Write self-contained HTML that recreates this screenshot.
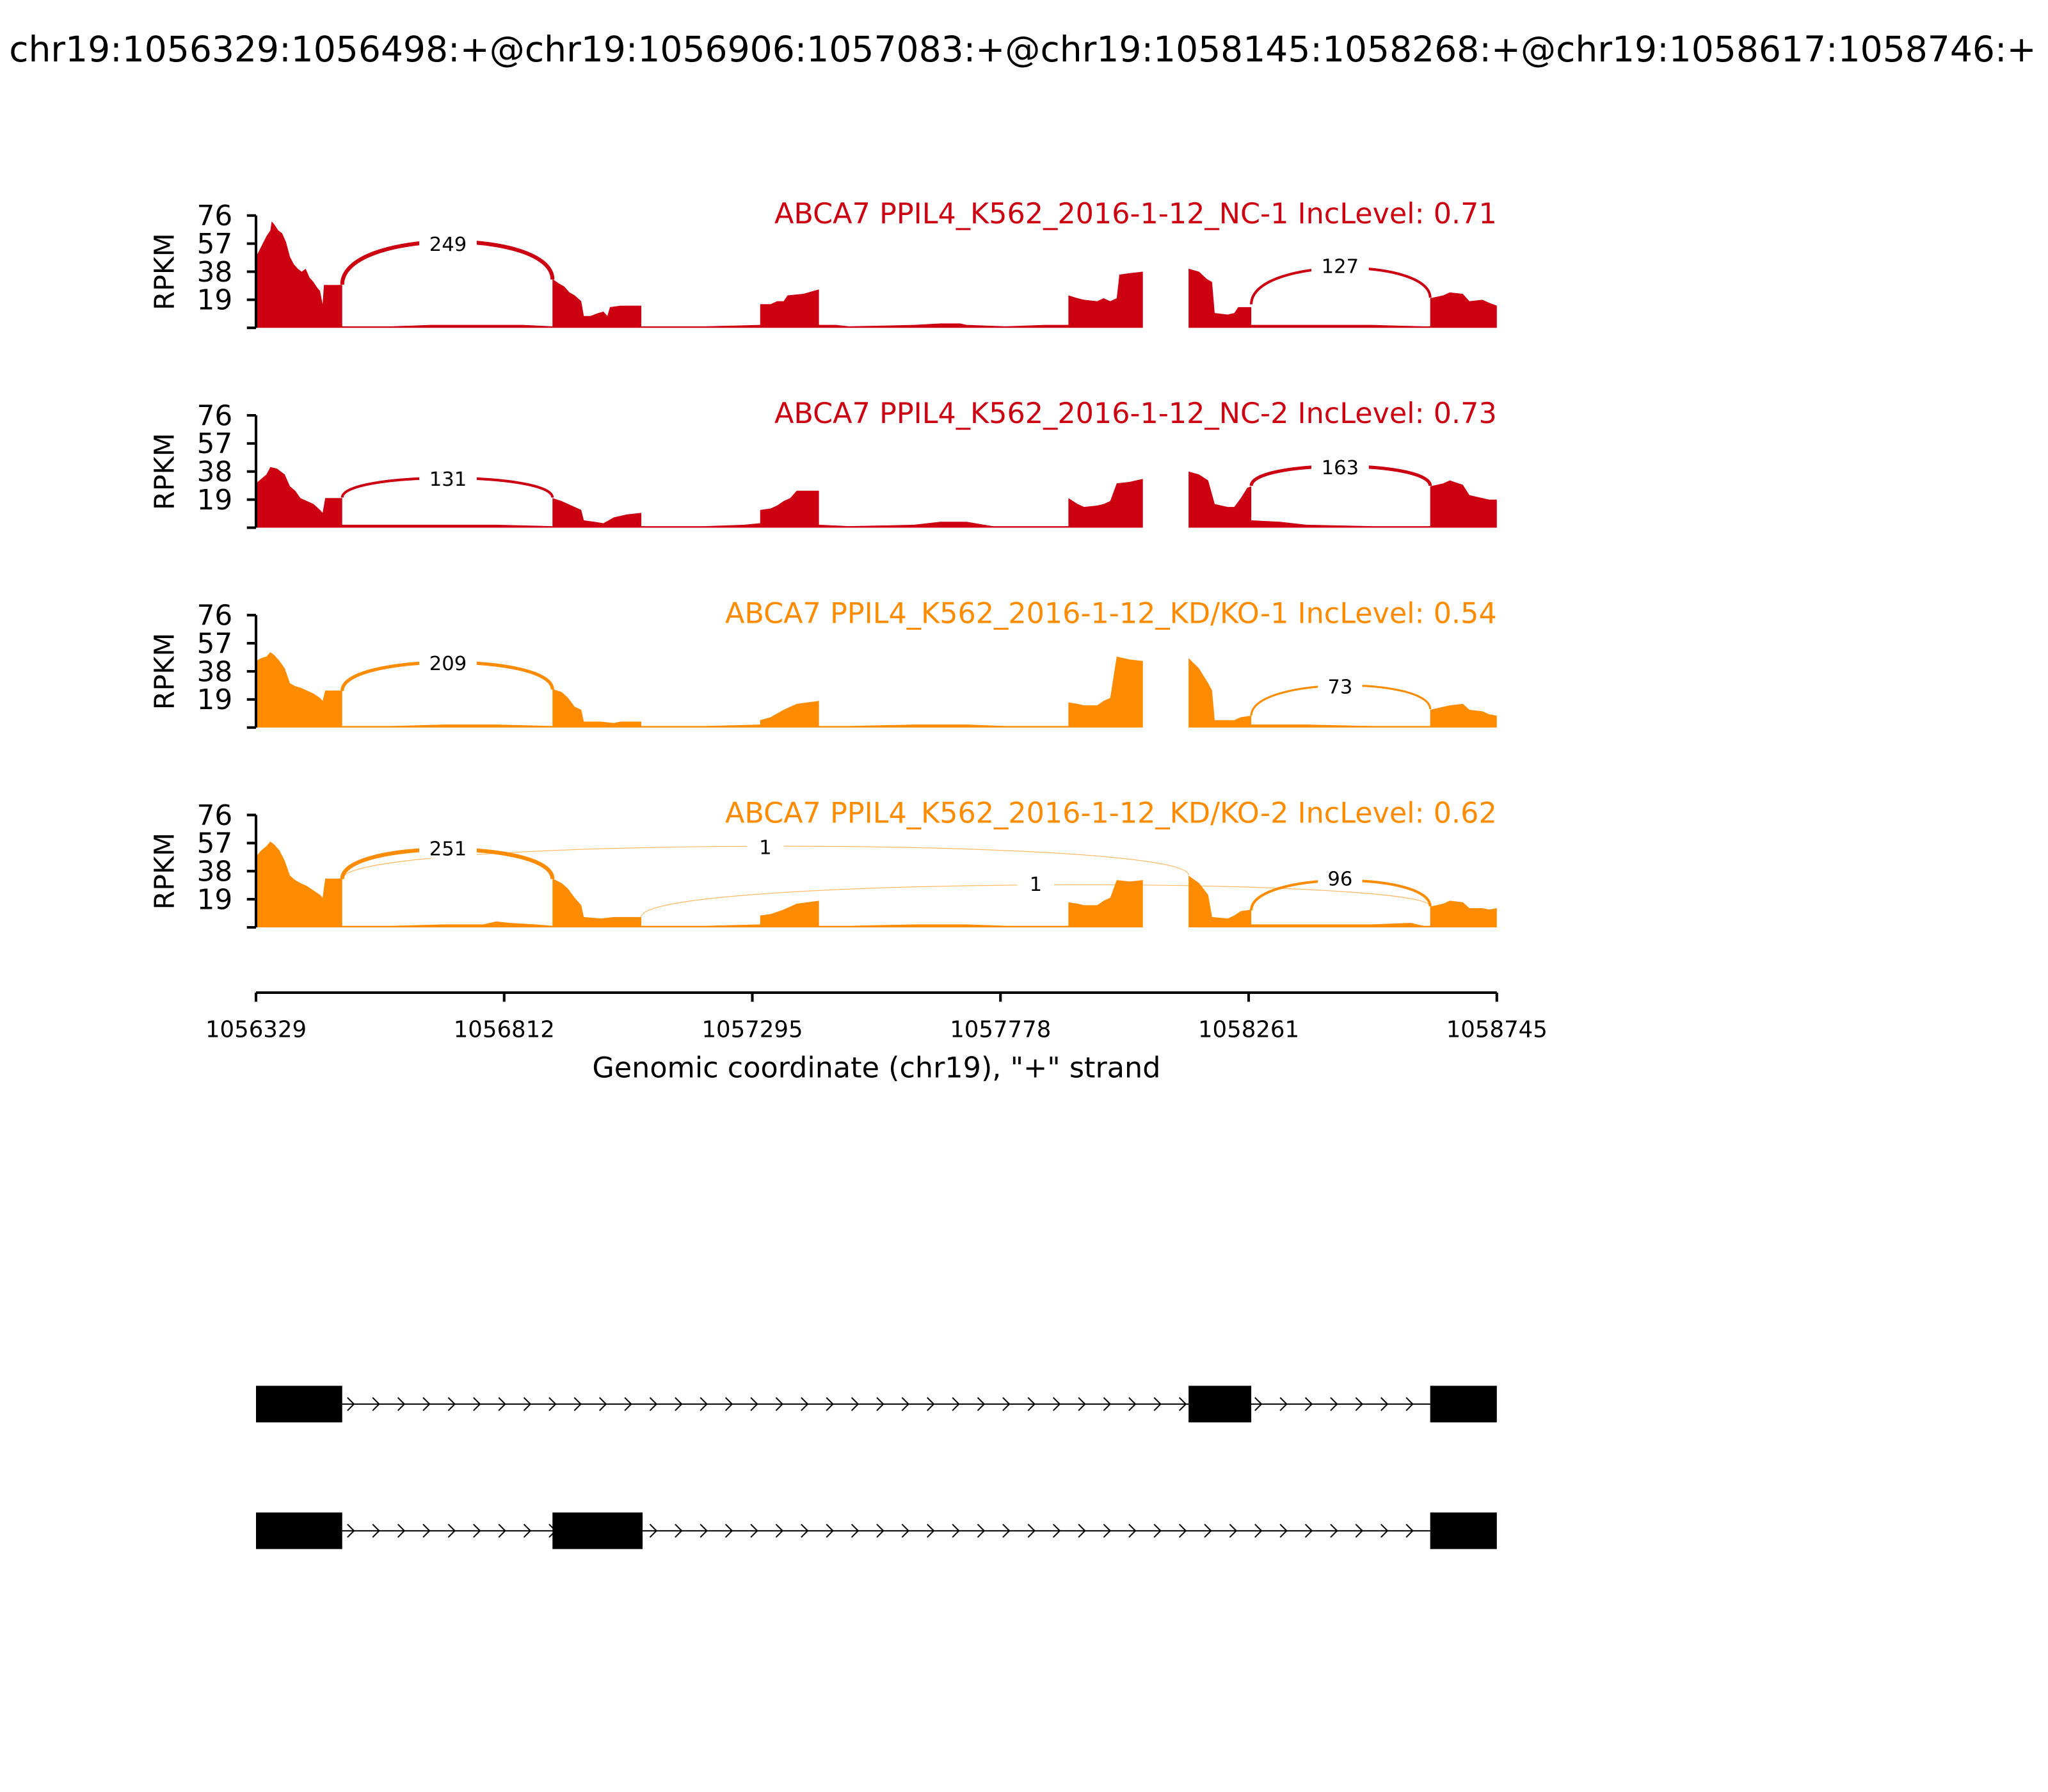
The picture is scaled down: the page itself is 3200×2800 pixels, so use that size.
<!DOCTYPE html>
<html><head><meta charset="utf-8"><style>
html,body{margin:0;padding:0;background:#fff;}
svg{display:block;font-family:"DejaVu Sans","Liberation Sans",sans-serif;}
</style></head><body>
<svg width="3200" height="2800" viewBox="0 0 1568 1372" xmlns="http://www.w3.org/2000/svg">
<defs>
<pattern id="chev" x="262" y="1063" width="19.3" height="24" patternUnits="userSpaceOnUse">
<path d="M4,7 L9,12 L4,17" fill="none" stroke="#000" stroke-width="1"/>
</pattern>
<pattern id="chev2" x="262" y="1160" width="19.3" height="24" patternUnits="userSpaceOnUse">
<path d="M4,7 L9,12 L4,17" fill="none" stroke="#000" stroke-width="1"/>
</pattern>
</defs>
<rect width="1568" height="1372" fill="#fff"/>
<text x="783" y="47" font-size="27" text-anchor="middle">chr19:1056329:1056498:+@chr19:1056906:1057083:+@chr19:1058145:1058268:+@chr19:1058617:1058746:+</text>

<!-- Panel 1 -->
<g transform="translate(0,251) scale(1,-1.1316)" fill="#cc0011">
<polygon points="196,0 196,48 200,55 204,62 207,66 208,72 210,70 213,66 216,64 219,58 222,48 225,43 228,40 231,38 234,40 237,34 240,31 243,27 245,25 247,16 248,29 262,29 262,1 300,1 330,2 360,2 400,2 423,1 423,33 428,30 432,28 436,24 440,22 445,18 447,8 452,8 458,10 462,11 465,8 467,14 475,15 491,15 491,1 540,1 582,2 582,16 590,16 595,18 600,18 603,22 615,23 627,26 627,2 640,2 650,1 700,2 720,3 735,3 740,2 770,1 800,2 818,2 818,22 825,20 830,19 840,18 845,20 850,18 855,20 857,36 865,37 875,38 875,0 910,0 910,40 918,38 924,33 928,31 930,10 940,9 945,10 948,14 958,14 958,2 1000,2 1050,2 1090,1 1095,1 1095,20 1105,22 1110,24 1120,23 1125,18 1135,19 1140,17 1146,15 1146,0"/>
</g>
<g fill="none" stroke="#cc0011">
<path d="M262,218 C262,174.7 423,174.7 423,214" stroke-width="3"/>
<path d="M958,233 C958,196.7 1095,196.7 1095,228" stroke-width="2"/>
</g>
<rect x="321" y="178" width="44" height="16" fill="#fff"/><text x="343" y="192" font-size="15" text-anchor="middle">249</text>
<rect x="1004" y="195" width="44" height="16" fill="#fff"/><text x="1026" y="209" font-size="15" text-anchor="middle">127</text>
<text x="1146" y="171" font-size="21.8" text-anchor="end" fill="#cc0011">ABCA7 PPIL4_K562_2016-1-12_NC-1 IncLevel: 0.71</text>

<!-- Panel 2 -->
<g transform="translate(0,404) scale(1,-1.1316)" fill="#cc0011">
<polygon points="196,0 196,30 200,33 204,36 207,41 212,40 215,38 218,36 222,28 226,25 230,20 235,18 240,16 245,12 247,10 249,20 262,20 262,2 300,2 340,2 380,2 423,1 423,20 430,18 435,16 440,14 445,12 447,5 455,4 462,3 466,5 470,7 480,9 491,10 491,1 540,1 570,2 582,3 582,12 590,13 595,15 600,18 605,20 610,25 627,25 627,2 650,1 700,2 720,4 740,4 760,1 818,1 818,20 825,16 830,14 840,15 845,16 850,18 855,30 865,31 875,33 875,0 910,0 910,38 918,36 925,32 930,16 940,14 945,14 950,20 955,27 958,28 958,5 980,4 1000,2 1050,1 1095,1 1095,28 1105,30 1110,32 1120,29 1125,22 1135,20 1140,19 1146,19 1146,0"/>
</g>
<g fill="none" stroke="#cc0011">
<path d="M262,381 C262,361 423,361 423,381" stroke-width="2"/>
<path d="M958,372 C958,352 1095,352 1095,372" stroke-width="2.5"/>
</g>
<rect x="321" y="358" width="44" height="16" fill="#fff"/><text x="343" y="372" font-size="15" text-anchor="middle">131</text>
<rect x="1004" y="349" width="44" height="16" fill="#fff"/><text x="1026" y="363" font-size="15" text-anchor="middle">163</text>
<text x="1146" y="324" font-size="21.8" text-anchor="end" fill="#cc0011">ABCA7 PPIL4_K562_2016-1-12_NC-2 IncLevel: 0.73</text>

<!-- Panel 3 -->
<g transform="translate(0,557) scale(1,-1.1316)" fill="#ff8c00">
<polygon points="196,0 196,45 200,47 204,48 207,51 210,49 214,45 218,40 222,30 226,28 230,27 235,25 240,23 245,20 247,18 249,25 262,25 262,1 300,1 340,2 380,2 423,1 423,26 430,24 435,20 440,14 445,12 447,4 460,4 470,3 475,4 491,4 491,1 540,1 582,2 582,5 590,7 600,12 610,16 627,18 627,1 650,1 700,2 740,2 770,1 818,1 818,17 825,16 830,15 840,15 845,18 850,20 855,48 865,46 875,45 875,0 910,0 910,47 918,40 925,30 928,25 930,5 945,5 950,7 958,8 958,2 1000,2 1050,1 1095,1 1095,12 1105,14 1110,15 1120,16 1125,12 1135,11 1140,9 1146,8 1146,0"/>
</g>
<g fill="none" stroke="#ff8c00">
<path d="M262,529 C262,500 423,500 423,528" stroke-width="2.5"/>
<path d="M958,548 C958,518 1095,518 1095,543" stroke-width="1.5"/>
</g>
<rect x="321" y="499" width="44" height="16" fill="#fff"/><text x="343" y="513" font-size="15" text-anchor="middle">209</text>
<rect x="1009" y="517" width="34" height="16" fill="#fff"/><text x="1026" y="531" font-size="15" text-anchor="middle">73</text>
<text x="1146" y="477" font-size="21.8" text-anchor="end" fill="#ff8c00">ABCA7 PPIL4_K562_2016-1-12_KD/KO-1 IncLevel: 0.54</text>

<!-- Panel 4 -->
<g transform="translate(0,710) scale(1,-1.1316)" fill="#ff8c00">
<polygon points="196,0 196,48 200,52 204,55 207,58 210,56 214,52 218,45 222,35 226,32 230,30 235,28 240,25 245,22 247,20 249,33 262,33 262,1 300,1 340,2 370,2 380,4 390,3 410,2 423,1 423,33 430,30 435,26 440,20 445,15 447,7 460,6 470,7 480,7 491,7 491,1 540,1 582,2 582,8 590,9 600,12 610,16 627,18 627,1 650,1 700,2 740,2 770,1 818,1 818,17 825,16 830,15 840,15 845,18 850,20 855,32 865,31 875,32 875,0 910,0 910,35 918,30 925,22 928,7 940,6 945,8 950,11 958,12 958,2 1000,2 1050,2 1080,3 1090,1 1095,1 1095,14 1105,16 1110,18 1120,17 1125,13 1135,13 1140,12 1146,13 1146,0"/>
</g>
<g fill="none" stroke="#ff8c00">
<path d="M262,673 C262,640 910,640 910,670" stroke-width="0.6" stroke-opacity="0.6"/>
<path d="M491,702 C491,670.7 1095,670.7 1095,694" stroke-width="0.6" stroke-opacity="0.6"/>
<path d="M262,673 C262,642.7 423,642.7 423,673" stroke-width="3"/>
<path d="M958,697 C958,667 1095,667 1095,694" stroke-width="2"/>
</g>
<rect x="321" y="641" width="44" height="16" fill="#fff"/><text x="343" y="655" font-size="15" text-anchor="middle">251</text>
<rect x="572" y="640" width="28" height="16" fill="#fff"/><text x="586" y="654" font-size="15" text-anchor="middle">1</text>
<rect x="779" y="668" width="28" height="16" fill="#fff"/><text x="793" y="682" font-size="15" text-anchor="middle">1</text>
<rect x="1009" y="664" width="34" height="16" fill="#fff"/><text x="1026" y="678" font-size="15" text-anchor="middle">96</text>
<text x="1146" y="630" font-size="21.8" text-anchor="end" fill="#ff8c00">ABCA7 PPIL4_K562_2016-1-12_KD/KO-2 IncLevel: 0.62</text>

<!-- Y axes -->
<g stroke="#000" stroke-width="2" fill="none">
<path d="M196,165 V251 M189,165 H196 M189,186.5 H196 M189,208 H196 M189,229.5 H196 M189,251 H196"/>
<path d="M196,318 V404 M189,318 H196 M189,339.5 H196 M189,361 H196 M189,382.5 H196 M189,404 H196"/>
<path d="M196,471 V557 M189,471 H196 M189,492.5 H196 M189,514 H196 M189,535.5 H196 M189,557 H196"/>
<path d="M196,624 V710 M189,624 H196 M189,645.5 H196 M189,667 H196 M189,688.5 H196 M189,710 H196"/>
</g>
<g font-size="21.5" text-anchor="end">
<text x="178" y="172.5">76</text><text x="178" y="194">57</text><text x="178" y="215.5">38</text><text x="178" y="237">19</text>
<text x="178" y="325.5">76</text><text x="178" y="347">57</text><text x="178" y="368.5">38</text><text x="178" y="390">19</text>
<text x="178" y="478.5">76</text><text x="178" y="500">57</text><text x="178" y="521.5">38</text><text x="178" y="543">19</text>
<text x="178" y="631.5">76</text><text x="178" y="653">57</text><text x="178" y="674.5">38</text><text x="178" y="696">19</text>
</g>
<g font-size="21" text-anchor="middle">
<text transform="translate(133,208) rotate(-90)">RPKM</text>
<text transform="translate(133,361) rotate(-90)">RPKM</text>
<text transform="translate(133,514) rotate(-90)">RPKM</text>
<text transform="translate(133,667) rotate(-90)">RPKM</text>
</g>

<!-- X axis -->
<g stroke="#000" stroke-width="2">
<path d="M196,760 H1146 M196,760 V767 M386,760 V767 M576,760 V767 M766,760 V767 M956,760 V767 M1146,760 V767"/>
</g>
<g font-size="17.4" text-anchor="middle">
<text x="196" y="794">1056329</text><text x="386" y="794">1056812</text><text x="576" y="794">1057295</text>
<text x="766" y="794">1057778</text><text x="956" y="794">1058261</text><text x="1146" y="794">1058745</text>
</g>
<text x="671" y="825" font-size="21.8" text-anchor="middle">Genomic coordinate (chr19), "+" strand</text>

<!-- Transcripts -->
<line x1="262" y1="1075" x2="1095" y2="1075" stroke="#000" stroke-width="1"/>
<rect x="262" y="1063" width="833" height="24" fill="url(#chev)"/>
<rect x="196" y="1061" width="66" height="28" fill="#000"/>
<rect x="910" y="1061" width="48" height="28" fill="#000"/>
<rect x="1095" y="1061" width="51" height="28" fill="#000"/>

<line x1="262" y1="1172" x2="1095" y2="1172" stroke="#000" stroke-width="1"/>
<rect x="262" y="1160" width="833" height="24" fill="url(#chev2)"/>
<rect x="196" y="1158" width="66" height="28" fill="#000"/>
<rect x="423" y="1158" width="69" height="28" fill="#000"/>
<rect x="1095" y="1158" width="51" height="28" fill="#000"/>
</svg>
</body></html>
